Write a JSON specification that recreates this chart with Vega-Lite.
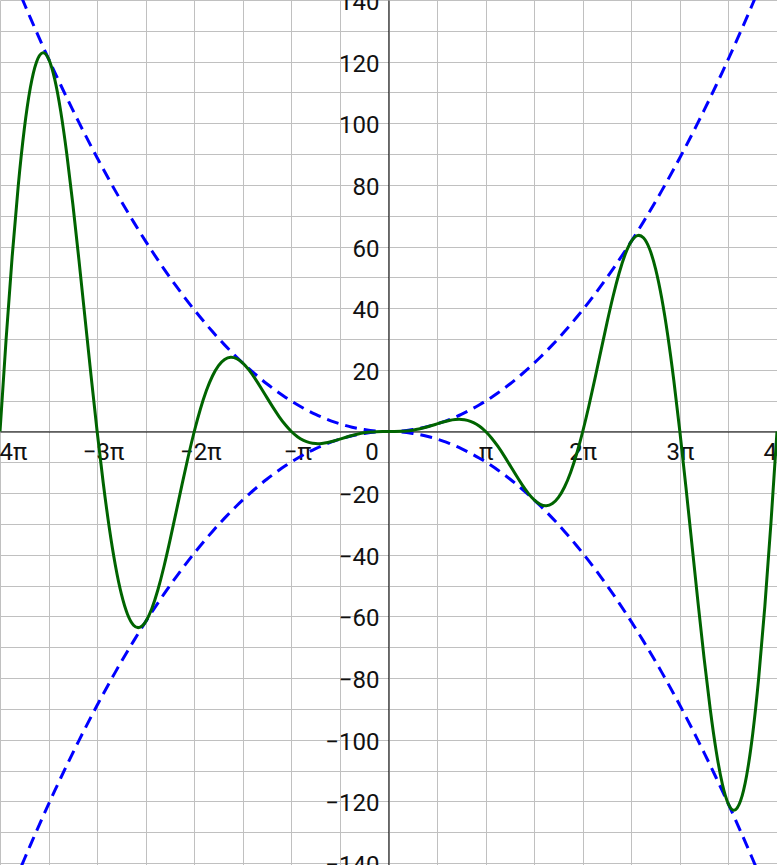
{
"$schema": "https://vega.github.io/schema/vega-lite/v6.json",
"width": 777, "height": 865, "autosize": {"type": "none"}, "padding": 0,
"background": "white",
"config": {"view": {"stroke": null}, "axis": {"labelFont": "Roboto", "labelFontSize": 24, "labelColor": "#111", "gridColor": "#c0c0c0", "gridWidth": 1, "gridOpacity": 1, "domainColor": "#000", "domainWidth": 1, "ticks": false, "tickSize": 0, "labelFlush": false, "labelOverlap": false, "labelBound": false}},
"data": {"values": [
{"x":-12.56637,"f":0,"u":157.91338,"l":-157.91338},
{"x":-12.37002,"f":29.8521,"u":153.01715,"l":-153.01715},
{"x":-12.17367,"f":56.7124,"u":148.19802,"l":-148.19802},
{"x":-11.97732,"f":79.7,"u":143.456,"l":-143.456},
{"x":-11.78097,"f":98.1406,"u":138.79109,"l":-138.79109},
{"x":-11.58462,"f":111.586,"u":134.20328,"l":-134.20328},
{"x":-11.38827,"f":119.8202,"u":129.69257,"l":-129.69257},
{"x":-11.19192,"f":122.8528,"u":125.25898,"l":-125.25898},
{"x":-10.99557,"f":120.9025,"u":120.90249,"l":-120.90249},
{"x":-10.79922,"f":114.3827,"u":116.6231,"l":-116.6231},
{"x":-10.60288,"f":103.8632,"u":112.42082,"l":-112.42082},
{"x":-10.40653,"f":90.0445,"u":108.29564,"l":-108.29564},
{"x":-10.21018,"f":73.7145,"u":104.24757,"l":-104.24757},
{"x":-10.01383,"f":55.7107,"u":100.27661,"l":-100.27661},
{"x":-9.81748,"f":36.8837,"u":96.38275,"l":-96.38275},
{"x":-9.62113,"f":18.0587,"u":92.56599,"l":-92.56599},
{"x":-9.42478,"f":0,"u":88.82635,"l":-88.82635},
{"x":-9.22843,"f":-16.6146,"u":85.1638,"l":-85.1638},
{"x":-9.03208,"f":-31.2184,"u":81.57836,"l":-81.57836},
{"x":-8.83573,"f":-43.3734,"u":78.07004,"l":-78.07004},
{"x":-8.63938,"f":-52.7778,"u":74.6388,"l":-74.6388},
{"x":-8.44303,"f":-59.271,"u":71.28468,"l":-71.28468},
{"x":-8.24668,"f":-62.8308,"u":68.00767,"l":-68.00767},
{"x":-8.05033,"f":-63.5628,"u":64.80776,"l":-64.80776},
{"x":-7.85398,"f":-61.685,"u":61.68496,"l":-61.68496},
{"x":-7.65763,"f":-57.5128,"u":58.63926,"l":-58.63926},
{"x":-7.46128,"f":-51.4331,"u":55.67068,"l":-55.67068},
{"x":-7.26493,"f":-43.8843,"u":52.77919,"l":-52.77919},
{"x":-7.06858,"f":-35.3306,"u":49.96482,"l":-49.96482},
{"x":-6.87223,"f":-26.2382,"u":47.22755,"l":-47.22755},
{"x":-6.67588,"f":-17.055,"u":44.56738,"l":-44.56738},
{"x":-6.47953,"f":-8.1907,"u":41.98433,"l":-41.98433},
{"x":-6.28319,"f":0,"u":39.47838,"l":-39.47838},
{"x":-6.08684,"f":7.2282,"u":37.05053,"l":-37.05053},
{"x":-5.89049,"f":13.2781,"u":34.69779,"l":-34.69779},
{"x":-5.69414,"f":18.0133,"u":32.42316,"l":-32.42316},
{"x":-5.49779,"f":21.3672,"u":30.21763,"l":-30.21763},
{"x":-5.30144,"f":23.3687,"u":28.10521,"l":-28.10521},
{"x":-5.10509,"f":24.0781,"u":26.0619,"l":-26.0619},
{"x":-4.90874,"f":23.6328,"u":24.09569,"l":-24.09569},
{"x":-4.71239,"f":22.2066,"u":22.20661,"l":-22.20661},
{"x":-4.51604,"f":20.0028,"u":20.39459,"l":-20.39459},
{"x":-4.31969,"f":17.2393,"u":18.6597,"l":-18.6597},
{"x":-4.12334,"f":14.1366,"u":17.00193,"l":-17.00193},
{"x":-3.92699,"f":10.9045,"u":15.42125,"l":-15.42125},
{"x":-3.73064,"f":7.7323,"u":13.91767,"l":-13.91767},
{"x":-3.53429,"f":4.7801,"u":12.49121,"l":-12.49121},
{"x":-3.33794,"f":2.1737,"u":11.14185,"l":-11.14185},
{"x":-3.14159,"f":0,"u":9.8696,"l":-9.8696},
{"x":-2.94524,"f":-1.6923,"u":8.67445,"l":-8.67445},
{"x":-2.74889,"f":-2.8917,"u":7.55641,"l":-7.55641},
{"x":-2.55254,"f":-3.6198,"u":6.51547,"l":-6.51547},
{"x":-2.35619,"f":-3.9256,"u":5.55165,"l":-5.55165},
{"x":-2.15984,"f":-3.8788,"u":4.66493,"l":-4.66493},
{"x":-1.9635,"f":-3.5618,"u":3.85531,"l":-3.85531},
{"x":-1.76715,"f":-3.0628,"u":3.1228,"l":-3.1228},
{"x":-1.5708,"f":-2.4674,"u":2.4674,"l":-2.4674},
{"x":-1.37445,"f":-1.8528,"u":1.8891,"l":-1.8891},
{"x":-1.1781,"f":-1.2823,"u":1.38791,"l":-1.38791},
{"x":-0.98175,"f":-0.8014,"u":0.96383,"l":-0.96383},
{"x":-0.7854,"f":-0.4362,"u":0.61685,"l":-0.61685},
{"x":-0.58905,"f":-0.1928,"u":0.34698,"l":-0.34698},
{"x":-0.3927,"f":-0.059,"u":0.15421,"l":-0.15421},
{"x":-0.19635,"f":-0.0075,"u":0.03855,"l":-0.03855},
{"x":0,"f":0,"u":0,"l":0},
{"x":0.19635,"f":0.0075,"u":0.03855,"l":-0.03855},
{"x":0.3927,"f":0.059,"u":0.15421,"l":-0.15421},
{"x":0.58905,"f":0.1928,"u":0.34698,"l":-0.34698},
{"x":0.7854,"f":0.4362,"u":0.61685,"l":-0.61685},
{"x":0.98175,"f":0.8014,"u":0.96383,"l":-0.96383},
{"x":1.1781,"f":1.2823,"u":1.38791,"l":-1.38791},
{"x":1.37445,"f":1.8528,"u":1.8891,"l":-1.8891},
{"x":1.5708,"f":2.4674,"u":2.4674,"l":-2.4674},
{"x":1.76715,"f":3.0628,"u":3.1228,"l":-3.1228},
{"x":1.9635,"f":3.5618,"u":3.85531,"l":-3.85531},
{"x":2.15984,"f":3.8788,"u":4.66493,"l":-4.66493},
{"x":2.35619,"f":3.9256,"u":5.55165,"l":-5.55165},
{"x":2.55254,"f":3.6198,"u":6.51547,"l":-6.51547},
{"x":2.74889,"f":2.8917,"u":7.55641,"l":-7.55641},
{"x":2.94524,"f":1.6923,"u":8.67445,"l":-8.67445},
{"x":3.14159,"f":0,"u":9.8696,"l":-9.8696},
{"x":3.33794,"f":-2.1737,"u":11.14185,"l":-11.14185},
{"x":3.53429,"f":-4.7801,"u":12.49121,"l":-12.49121},
{"x":3.73064,"f":-7.7323,"u":13.91767,"l":-13.91767},
{"x":3.92699,"f":-10.9045,"u":15.42125,"l":-15.42125},
{"x":4.12334,"f":-14.1366,"u":17.00193,"l":-17.00193},
{"x":4.31969,"f":-17.2393,"u":18.6597,"l":-18.6597},
{"x":4.51604,"f":-20.0028,"u":20.39459,"l":-20.39459},
{"x":4.71239,"f":-22.2066,"u":22.20661,"l":-22.20661},
{"x":4.90874,"f":-23.6328,"u":24.09569,"l":-24.09569},
{"x":5.10509,"f":-24.0781,"u":26.0619,"l":-26.0619},
{"x":5.30144,"f":-23.3687,"u":28.10521,"l":-28.10521},
{"x":5.49779,"f":-21.3672,"u":30.21763,"l":-30.21763},
{"x":5.69414,"f":-18.0133,"u":32.42316,"l":-32.42316},
{"x":5.89049,"f":-13.2781,"u":34.69779,"l":-34.69779},
{"x":6.08684,"f":-7.2282,"u":37.05053,"l":-37.05053},
{"x":6.28319,"f":0,"u":39.47838,"l":-39.47838},
{"x":6.47953,"f":8.1907,"u":41.98433,"l":-41.98433},
{"x":6.67588,"f":17.055,"u":44.56738,"l":-44.56738},
{"x":6.87223,"f":26.2382,"u":47.22755,"l":-47.22755},
{"x":7.06858,"f":35.3306,"u":49.96482,"l":-49.96482},
{"x":7.26493,"f":43.8843,"u":52.77919,"l":-52.77919},
{"x":7.46128,"f":51.4331,"u":55.67068,"l":-55.67068},
{"x":7.65763,"f":57.5128,"u":58.63926,"l":-58.63926},
{"x":7.85398,"f":61.685,"u":61.68496,"l":-61.68496},
{"x":8.05033,"f":63.5628,"u":64.80776,"l":-64.80776},
{"x":8.24668,"f":62.8308,"u":68.00767,"l":-68.00767},
{"x":8.44303,"f":59.271,"u":71.28468,"l":-71.28468},
{"x":8.63938,"f":52.7778,"u":74.6388,"l":-74.6388},
{"x":8.83573,"f":43.3734,"u":78.07004,"l":-78.07004},
{"x":9.03208,"f":31.2184,"u":81.57836,"l":-81.57836},
{"x":9.22843,"f":16.6146,"u":85.1638,"l":-85.1638},
{"x":9.42478,"f":0,"u":88.82635,"l":-88.82635},
{"x":9.62113,"f":-18.0587,"u":92.56599,"l":-92.56599},
{"x":9.81748,"f":-36.8837,"u":96.38275,"l":-96.38275},
{"x":10.01383,"f":-55.7107,"u":100.27661,"l":-100.27661},
{"x":10.21018,"f":-73.7145,"u":104.24757,"l":-104.24757},
{"x":10.40653,"f":-90.0445,"u":108.29564,"l":-108.29564},
{"x":10.60288,"f":-103.8632,"u":112.42082,"l":-112.42082},
{"x":10.79922,"f":-114.3827,"u":116.6231,"l":-116.6231},
{"x":10.99557,"f":-120.9025,"u":120.90249,"l":-120.90249},
{"x":11.19192,"f":-122.8528,"u":125.25898,"l":-125.25898},
{"x":11.38827,"f":-119.8202,"u":129.69257,"l":-129.69257},
{"x":11.58462,"f":-111.586,"u":134.20328,"l":-134.20328},
{"x":11.78097,"f":-98.1406,"u":138.79109,"l":-138.79109},
{"x":11.97732,"f":-79.7,"u":143.456,"l":-143.456},
{"x":12.17367,"f":-56.7124,"u":148.19802,"l":-148.19802},
{"x":12.37002,"f":-29.8521,"u":153.01715,"l":-153.01715},
{"x":12.56637,"f":0,"u":157.91338,"l":-157.91338}
]},
"encoding": {
  "x": {"field": "x", "type": "quantitative", "title": null,
    "scale": {"domain": [-12.567, 12.567], "nice": false, "zero": false},
    "axis": {"orient": "bottom", "offset": -433.5, "grid": true, "title": null,
      "values": [-12.566371, -10.995574, -9.424778, -7.853982, -6.283185, -4.712389, -3.141593, -1.570796, 0, 1.570796, 3.141593, 4.712389, 6.283185, 7.853982, 9.424778, 10.995574, 12.566371],
      "labelExpr": "abs(datum.value) < 0.001 ? '0' : (abs(round(datum.value / PI * 2)) % 2 == 1 ? '' : (round(datum.value / PI) == 1 ? 'π' : (round(datum.value / PI) == -1 ? '−π' : (round(datum.value / PI) < 0 ? '−' + abs(round(datum.value / PI)) + 'π' : round(datum.value / PI) + 'π'))))",
      "labelPadding": 8.5,
      "labelOffset": {"condition": [{"test": "abs(datum.value) < 0.001", "value": -17}, {"test": "datum.value < 0", "value": 6}], "value": 0}
    }
  }
},
"layer": [
  {"mark": {"type": "line", "stroke": "#0000ff", "strokeWidth": 3, "strokeDash": [12, 7], "interpolate": "natural", "clip": true},
   "encoding": {"y": {"field": "u", "type": "quantitative", "title": null,
     "scale": {"domain": [-140.65, 140], "nice": false, "zero": false},
     "axis": {"orient": "left", "offset": -388.4, "grid": true, "title": null,
       "values": [-140,-130,-120,-110,-100,-90,-80,-70,-60,-50,-40,-30,-20,-10,0,10,20,30,40,50,60,70,80,90,100,110,120,130,140],
       "labelExpr": "(datum.value == 0 || datum.value % 20 != 0) ? '' : (datum.value < 0 ? '−' + abs(datum.value) : '' + datum.value)",
       "labelPadding": 9.5, "labelOffset": 2.5}}}},
  {"mark": {"type": "line", "stroke": "#0000ff", "strokeWidth": 3, "strokeDash": [12, 7], "interpolate": "natural", "clip": true},
   "encoding": {"y": {"field": "l", "type": "quantitative", "title": null,
     "scale": {"domain": [-140.65, 140], "nice": false, "zero": false},
     "axis": {"orient": "left", "offset": -388.4, "grid": true, "title": null,
       "values": [-140,-130,-120,-110,-100,-90,-80,-70,-60,-50,-40,-30,-20,-10,0,10,20,30,40,50,60,70,80,90,100,110,120,130,140],
       "labelExpr": "(datum.value == 0 || datum.value % 20 != 0) ? '' : (datum.value < 0 ? '−' + abs(datum.value) : '' + datum.value)",
       "labelPadding": 9.5, "labelOffset": 2.5}}}},
  {"mark": {"type": "line", "stroke": "#006400", "strokeWidth": 3, "interpolate": "natural", "clip": true},
   "encoding": {"y": {"field": "f", "type": "quantitative", "title": null,
     "scale": {"domain": [-140.65, 140], "nice": false, "zero": false},
     "axis": {"orient": "left", "offset": -388.4, "grid": true, "title": null,
       "values": [-140,-130,-120,-110,-100,-90,-80,-70,-60,-50,-40,-30,-20,-10,0,10,20,30,40,50,60,70,80,90,100,110,120,130,140],
       "labelExpr": "(datum.value == 0 || datum.value % 20 != 0) ? '' : (datum.value < 0 ? '−' + abs(datum.value) : '' + datum.value)",
       "labelPadding": 9.5, "labelOffset": 2.5}}}}
]
}
